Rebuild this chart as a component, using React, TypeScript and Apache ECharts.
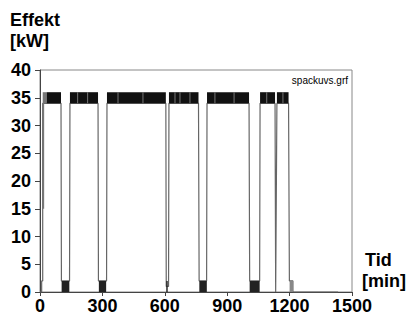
import React, { useEffect, useRef } from "react";
import * as echarts from "echarts";

// Time axis ticks [min] and power axis ticks [kW]
const xTicks = [0, 300, 600, 900, 1200, 1500];
const yTicks = [0, 5, 10, 15, 20, 25, 30, 35, 40];

// Dense on-periods: power oscillating between 34 and 36 kW [start, end, low, high]
const onBands: number[][] = [
  [32, 101, 34, 36],
  [144, 279, 34, 36],
  [322, 605, 34, 36],
  [620, 762, 34, 36],
  [803, 1005, 34, 36],
  [1058, 1130, 34, 36],
  [1139, 1195, 34, 36],
];
// Start-up part of the first period (lighter, sparser switching)
const rampBands: number[][] = [
  [13, 32, 34, 36],
  [14, 20, 15, 34],
];
// Off-periods: power oscillating between 0 and 2 kW
const offBands: number[][] = [
  [104, 141, 0, 2],
  [283, 318, 0, 2],
  [607, 614, 0, 2],
  [766, 802, 0, 2],
  [1008, 1056, 0, 2],
];
const tailBands: number[][] = [[1200, 1216, 0, 2]];
// Light seams visible inside the dark bands [min]
const seams = [181, 229, 375, 495, 649, 673, 721, 841, 933, 1090, 1168];

// Power trace outline [min, kW]
const trace: number[][] = [
  [0, 0], [8, 0], [8, 2], [13, 2], [13, 34],
  [101, 34], [103, 2], [142, 2], [144, 34],
  [279, 34], [281, 2], [320, 2], [322, 34],
  [605, 34], [607, 1], [618, 1], [620, 34],
  [762, 34], [765, 2], [801, 2], [803, 34],
  [1005, 34], [1008, 2], [1056, 2], [1058, 34],
  [1130, 34], [1133, 0], [1136, 0], [1139, 34],
  [1195, 34], [1199, 2], [1216, 2], [1216, 0], [1433, 0],
];

const bandSeries = (data: number[][], fill: string) => ({
  type: "custom",
  data,
  encode: { x: [0, 1], y: [2, 3] },
  z: 3,
  renderItem: (_p: any, api: any) => {
    const a = api.coord([api.value(0), api.value(3)]);
    const b = api.coord([api.value(1), api.value(2)]);
    return {
      type: "rect",
      shape: { x: a[0], y: a[1], width: b[0] - a[0], height: b[1] - a[1] },
      style: { fill },
    };
  },
});

export default function App() {
  const ref = useRef<HTMLDivElement>(null);
  useEffect(() => {
    if (!ref.current) return;
    const chart = echarts.init(ref.current, undefined, { renderer: "svg" });
    const font = "'Liberation Sans', Arial, sans-serif";
    chart.setOption({
      animation: false,
      backgroundColor: "#ffffff",
      grid: {
        left: 40,
        right: 62,
        top: 70,
        bottom: 28,
        show: true,
        borderColor: "#888",
        borderWidth: 1,
      },
      xAxis: {
        type: "value",
        min: xTicks[0],
        max: xTicks[xTicks.length - 1],
        interval: 300,
        splitLine: { show: false },
        axisLine: { show: true, lineStyle: { color: "#444", width: 1 } },
        axisTick: { show: true, length: 4, lineStyle: { color: "#444" } },
        axisLabel: {
          color: "#000",
          fontFamily: font,
          fontWeight: "bold",
          fontSize: 18,
          margin: 5,
          formatter: (v: number) => String(v),
        },
      },
      yAxis: {
        type: "value",
        min: yTicks[0],
        max: yTicks[yTicks.length - 1],
        interval: 5,
        splitLine: { show: false },
        axisLine: { show: true, lineStyle: { color: "#444", width: 1 } },
        axisTick: { show: true, length: 5, lineStyle: { color: "#444" } },
        axisLabel: {
          color: "#000",
          fontFamily: font,
          fontWeight: "bold",
          fontSize: 18,
          margin: 9,
          formatter: (v: number) => String(v),
        },
      },
      graphic: [
        { type: "text", left: 10, top: 11, style: { text: "Effekt", font: `bold 18px ${font}`, fill: "#000" } },
        { type: "text", left: 10, top: 32, style: { text: "[kW]", font: `bold 18px ${font}`, fill: "#000" } },
        { type: "text", left: 365, top: 251, style: { text: "Tid", font: `bold 18px ${font}`, fill: "#000" } },
        { type: "text", left: 362, top: 272, style: { text: "[min]", font: `bold 18px ${font}`, fill: "#000" } },
        { type: "text", right: 66, top: 75, style: { text: "spackuvs.grf", font: `10px ${font}`, fill: "#000" } },
      ],
      series: [
        {
          type: "line",
          data: trace,
          showSymbol: false,
          symbol: "none",
          z: 2,
          lineStyle: { color: "#666", width: 1.2 },
        },
        bandSeries(rampBands, "#777"),
        bandSeries(onBands, "#111"),
        bandSeries(offBands, "#222"),
        bandSeries(tailBands, "#888"),
        {
          type: "custom",
          data: seams,
          encode: { x: 0 },
          z: 4,
          renderItem: (_p: any, api: any) => {
            const a = api.coord([api.value(0), 36]);
            const b = api.coord([api.value(0), 34]);
            return {
              type: "line",
              shape: { x1: a[0], y1: a[1], x2: b[0], y2: b[1] },
              style: { stroke: "#777", lineWidth: 1 },
            };
          },
        },
      ],
    });
    return () => chart.dispose();
  }, []);
  return <div ref={ref} style={{ width: 414, height: 320, margin: -8 }} />;
}
